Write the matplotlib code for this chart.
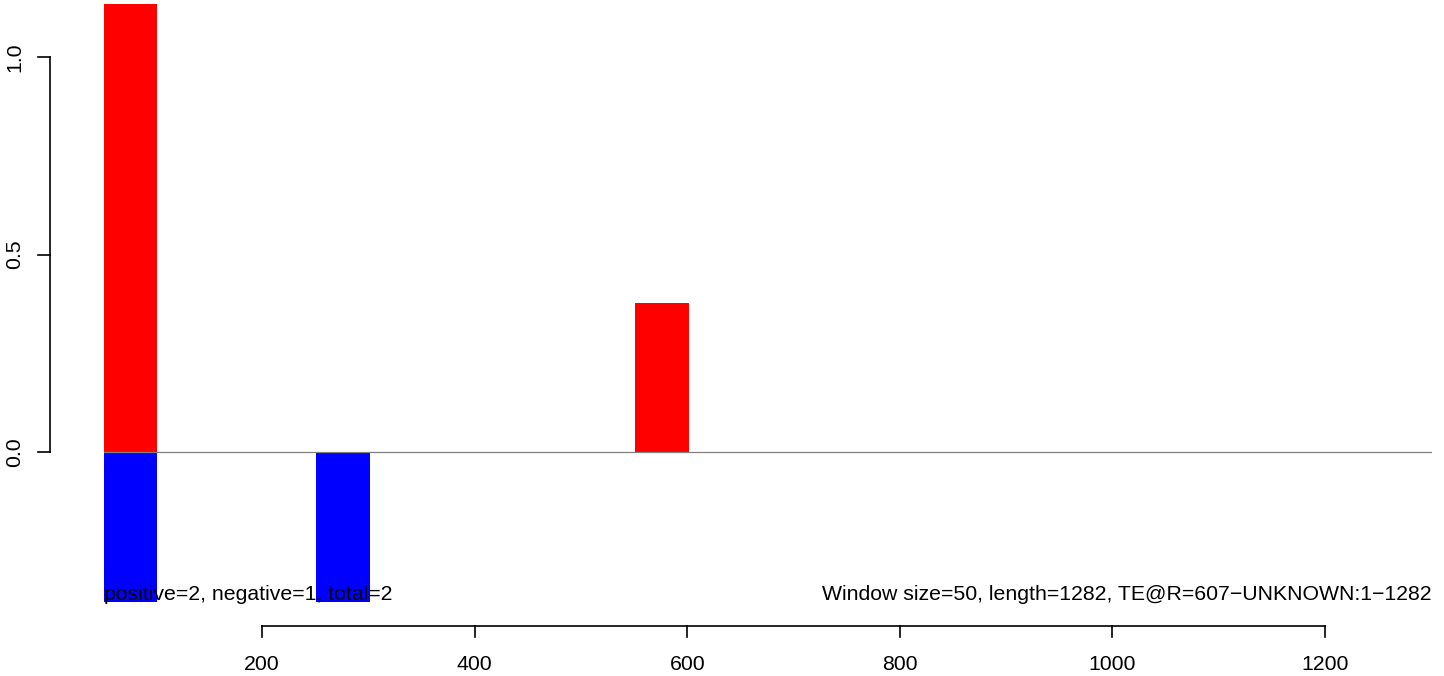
import matplotlib
matplotlib.use("Agg")
import matplotlib.pyplot as plt

# Data
window_size = 50
pos_starts = [51, 551]
pos_values = [1.134, 0.377]
neg_starts = [51, 251]
neg_values = [-0.38, -0.38]
x_ticks = [200, 400, 600, 800, 1000, 1200]
y_ticks = [0.0, 0.5, 1.0]
y_tick_labels = ["0.0", "0.5", "1.0"]
left_text = "positive=2, negative=1, total=2"
right_text = "Window size=50, length=1282, TE@R=607\u2212UNKNOWN:1\u22121282"

plt.rcParams['font.family'] = ['Liberation Sans', 'DejaVu Sans']
FS = 15.3

W, H = 1444, 676
fig = plt.figure(figsize=(W / 100, H / 100), dpi=100)
# plot region in pixels: x 104..1432, y 4..602
ax = fig.add_axes([104 / W, 1 - 602 / H, (1432 - 104) / W, (602 - 4) / H])

ax.bar(pos_starts, pos_values, width=window_size + 0.5, align='edge', color='#FF0000', linewidth=0)
ax.bar(neg_starts, neg_values, width=window_size + 0.5, align='edge', color='#0000FF', linewidth=0)
ax.axhline(0, color='#808080', linewidth=0.9, zorder=3)

ax.set_xlim(51.4, 1300.6)
ax.set_ylim(-0.3797, 1.1342)

for s in ax.spines.values():
    s.set_visible(False)
ax.set_xticks([])
ax.set_yticks([])

fig.text(104 / W, 1 - 600 / H, left_text, ha='left', va='baseline', fontsize=FS, zorder=5)
fig.text(1432 / W, 1 - 600 / H, right_text, ha='right', va='baseline', fontsize=FS, zorder=5)

# Custom R-style axes drawn in figure pixel coords
def xp(x):
    return 262 + (x - 200) * 1.063

def yp(y):
    return 452 - y * 395

def line(x0, y0, x1, y1):
    fig.add_artist(plt.Line2D([x0 / W, x1 / W], [1 - y0 / H, 1 - y1 / H], color='black', linewidth=1.2))

# x axis
line(xp(x_ticks[0]), 626, xp(x_ticks[-1]), 626)
for t in x_ticks:
    line(xp(t), 626, xp(t), 637)
    fig.text(xp(t) / W, 1 - 670 / H, str(t), ha='center', va='baseline', fontsize=FS)

# y axis
line(50, yp(y_ticks[0]), 50, yp(y_ticks[-1]))
for t, lab in zip(y_ticks, y_tick_labels):
    line(38, yp(t), 50, yp(t))
    fig.text(14.5 / W, 1 - yp(t) / H, lab, ha='center', va='center', rotation=90, fontsize=FS)

fig.savefig("out.png", dpi=100)
